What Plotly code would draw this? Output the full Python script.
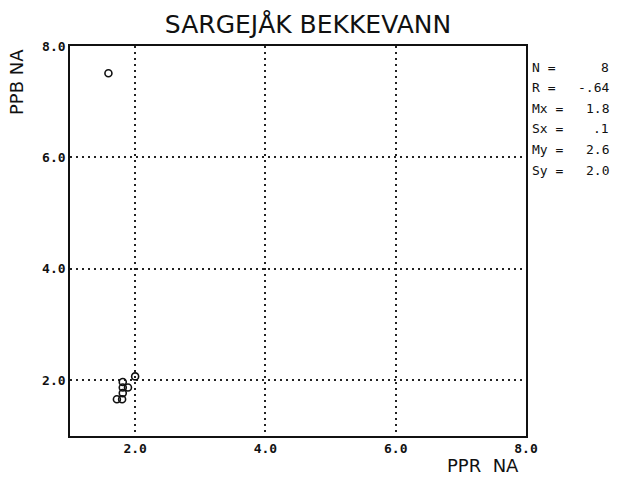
import plotly.graph_objects as go

# Data
ppr_na = [1.59, 2.00, 1.81, 1.89, 1.81, 1.81, 1.72, 1.80]
ppb_na = [7.51, 2.07, 1.97, 1.87, 1.87, 1.77, 1.66, 1.66]

x_ticks = [2, 4, 6, 8]
x_tick_labels = ["2.0", "4.0", "6.0", "8.0"]
y_ticks = [2, 4, 6, 8]
y_tick_labels = ["2.0", "4.0", "6.0", "8.0"]

stat_labels = ["N =", "R =", "Mx =", "Sx =", "My =", "Sy ="]
stat_values = ["8", "-.64", "1.8", ".1", "2.6", "2.0"]

title_text = "SARGEJÅK BEKKEVANN"
x_title = "PPR\u00a0\u00a0NA"
y_title = "PPB NA"

fig = go.Figure()
fig.add_trace(go.Scatter(
    x=ppr_na, y=ppb_na, mode="markers",
    marker=dict(symbol="circle-open", size=7, color="#111",
                line=dict(width=1.6, color="#111")),
    showlegend=False, cliponaxis=False,
))

mono = "DejaVu Sans Mono"
axis_common = dict(
    showline=True, linecolor="#111", linewidth=1.6, mirror=True,
    showgrid=True, gridcolor="#222", gridwidth=2, griddash="2px,4px",
    zeroline=False, ticks="", ticklen=0,
    tickfont=dict(family=mono, size=13, color="#111", weight="bold"),
)

fig.update_xaxes(range=[1, 8], tickvals=x_ticks, ticktext=x_tick_labels,
                 ticklabelstandoff=0, **axis_common)
fig.update_yaxes(range=[1, 8], tickvals=y_ticks, ticktext=y_tick_labels,
                 ticklabelstandoff=0, **axis_common)

# plot area in pixels: x 70..526, y 46..436
def px_x(p):
    return (p - 70) / 456.0

def px_y(p):
    return (436 - p) / 390.0

annotations = []
for i, (lab, val) in enumerate(zip(stat_labels, stat_values)):
    yy = px_y(67 + i * 20.6)
    annotations.append(dict(x=px_x(530), y=yy, xref="paper", yref="paper",
                            text=lab, showarrow=False, xanchor="left",
                            yanchor="middle",
                            font=dict(family=mono, size=13, color="#111")))
    annotations.append(dict(x=px_x(611), y=yy, xref="paper", yref="paper",
                            text=val, showarrow=False, xanchor="right",
                            yanchor="middle",
                            font=dict(family=mono, size=13, color="#111")))
annotations.append(dict(x=px_x(16), y=px_y(82), xref="paper", yref="paper",
                        text=y_title, showarrow=False, textangle=-90,
                        xanchor="center", yanchor="middle",
                        font=dict(family="DejaVu Sans", size=18, color="#111")))
annotations.append(dict(x=px_x(521), y=px_y(465), xref="paper", yref="paper",
                        text=x_title, showarrow=False, xanchor="right",
                        yanchor="middle",
                        font=dict(family="DejaVu Sans", size=18, color="#111")))

fig.update_layout(
    width=621, height=477,
    margin=dict(l=70, r=95, t=46, b=41),
    paper_bgcolor="white", plot_bgcolor="white",
    title=dict(text=title_text, x=308 / 621, xref="container", xanchor="center",
               y=1 - 24 / 477, yref="container", yanchor="middle",
               font=dict(family="DejaVu Sans", size=25, color="#111")),
    annotations=annotations,
)

fig.write_html("out.html")
